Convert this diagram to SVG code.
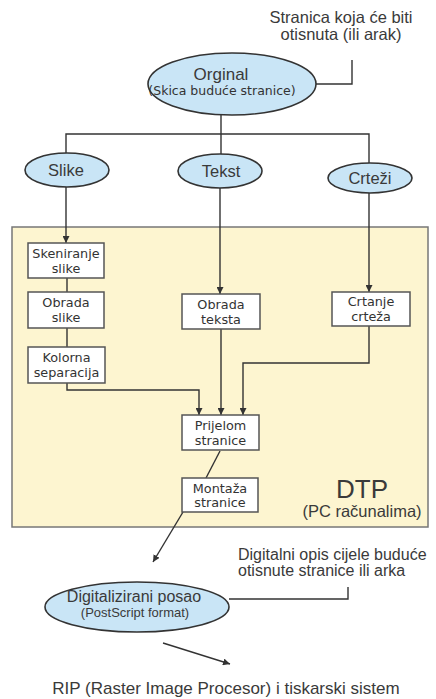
<svg xmlns="http://www.w3.org/2000/svg" width="436" height="699" viewBox="0 0 436 699">
<defs>
<marker id="arr" viewBox="0 0 10 10" refX="10" refY="5" markerWidth="7" markerHeight="7" markerUnits="userSpaceOnUse" orient="auto">
<path d="M0,0 L10,5 L0,10 z" fill="#333"/>
</marker>
<style>
.ell{fill:#c9e5f6;stroke:#333;stroke-width:1.6}
.box{fill:#fff;stroke:#555;stroke-width:1.5}
.lbl{font-family:"Liberation Sans",Arial,sans-serif;fill:#3a3a3a;text-anchor:middle}
.bt{font-family:"DejaVu Sans",Verdana,sans-serif;font-size:12.8px;fill:#333;text-anchor:middle}
.con{fill:none;stroke:#333;stroke-width:1.4}
</style>
</defs>
<rect width="436" height="699" fill="#fff"/>

<g id="dtp">
<rect x="12" y="227" width="416" height="300" fill="#fdf5d0" stroke="#777" stroke-width="1.5"/>
<text class="lbl" x="362" y="498" font-size="26">DTP</text>
<text class="lbl" x="362" y="517" font-size="16.5">(PC računalima)</text>
</g>

<g id="note-top">
<text class="lbl" x="341" y="23" font-size="16.5">Stranica koja će biti</text>
<text class="lbl" x="341" y="40" font-size="16.5">otisnuta (ili arak)</text>
</g>

<g id="note-bottom">
<text class="lbl" x="238" y="560" font-size="16" style="text-anchor:start">Digitalni opis cijele buduće</text>
<text class="lbl" x="238" y="576" font-size="16" style="text-anchor:start">otisnute stranice ili arka</text>
</g>

<g id="rip">
<text class="lbl" x="226" y="694" font-size="17">RIP (Raster Image Procesor) i tiskarski sistem</text>
</g>

<g id="connectors">
<path class="con" d="M352,60 V84 H316"/>
<path class="con" d="M221,115 V134"/>
<path class="con" d="M66,153 V134 H369 V163"/>
<path class="con" d="M221,134 V155"/>
<path class="con" d="M66,187 V243" marker-end="url(#arr)"/>
<path class="con" d="M67,278 V292"/>
<path class="con" d="M67,328 V347"/>
<path class="con" d="M67,383 V390 H199 V415" marker-end="url(#arr)"/>
<path class="con" d="M220,187 V294" marker-end="url(#arr)"/>
<path class="con" d="M221,329 V415" marker-end="url(#arr)"/>
<path class="con" d="M369,193 V292" marker-end="url(#arr)"/>
<path class="con" d="M369,326 V363 H243 V415" marker-end="url(#arr)"/>
<path class="con" d="M220,451 L206,478"/>
<path class="con" d="M183,512 L153,562" marker-end="url(#arr)"/>
<path class="con" d="M229,599 H348 V587"/>
<path class="con" d="M163,643 L230,664" marker-end="url(#arr)"/>
</g>

<g id="orginal">
<ellipse class="ell" cx="232" cy="84" rx="84" ry="31"/>
<text class="lbl" x="221" y="80" font-size="17">Orginal</text>
<text class="bt" x="222" y="95" style="font-size:12.5px">(Skica buduće stranice)</text>
</g>

<g id="slike">
<ellipse class="ell" cx="67" cy="170" rx="42" ry="17"/>
<text class="lbl" x="66" y="176" font-size="16.5">Slike</text>
</g>
<g id="tekst">
<ellipse class="ell" cx="220" cy="171" rx="42" ry="17"/>
<text class="lbl" x="221" y="177" font-size="16.5">Tekst</text>
</g>
<g id="crtezi">
<ellipse class="ell" cx="370" cy="178" rx="42" ry="15"/>
<text class="lbl" x="370" y="184" font-size="16.5">Crteži</text>
</g>

<g id="skeniranje">
<rect class="box" x="28" y="243" width="76" height="35"/>
<text class="bt" x="66" y="258">Skeniranje</text>
<text class="bt" x="66" y="273">slike</text>
</g>
<g id="obrada-slike">
<rect class="box" x="28" y="292" width="76" height="36"/>
<text class="bt" x="66" y="307">Obrada</text>
<text class="bt" x="66" y="322">slike</text>
</g>
<g id="kolorna">
<rect class="box" x="28" y="347" width="77" height="36"/>
<text class="bt" x="66.5" y="362">Kolorna</text>
<text class="bt" x="66.5" y="377">separacija</text>
</g>
<g id="obrada-teksta">
<rect class="box" x="182" y="294" width="78" height="35"/>
<text class="bt" x="221" y="309">Obrada</text>
<text class="bt" x="221" y="324">teksta</text>
</g>
<g id="crtanje">
<rect class="box" x="332" y="292" width="78" height="34"/>
<text class="bt" x="371" y="306">Crtanje</text>
<text class="bt" x="371" y="321">crteža</text>
</g>
<g id="prijelom">
<rect class="box" x="182" y="415" width="77" height="35"/>
<text class="bt" x="220.5" y="430">Prijelom</text>
<text class="bt" x="220.5" y="445">stranice</text>
</g>
<g id="montaza">
<rect class="box" x="182" y="478" width="76" height="34"/>
<text class="bt" x="220" y="493">Montaža</text>
<text class="bt" x="220" y="507">stranice</text>
</g>

<g id="digitalizirani">
<ellipse class="ell" cx="137" cy="607" rx="92" ry="25"/>
<text class="lbl" x="134" y="602" font-size="16">Digitalizirani posao</text>
<text class="lbl" x="135" y="617" font-size="13">(PostScript format)</text>
</g>
</svg>
